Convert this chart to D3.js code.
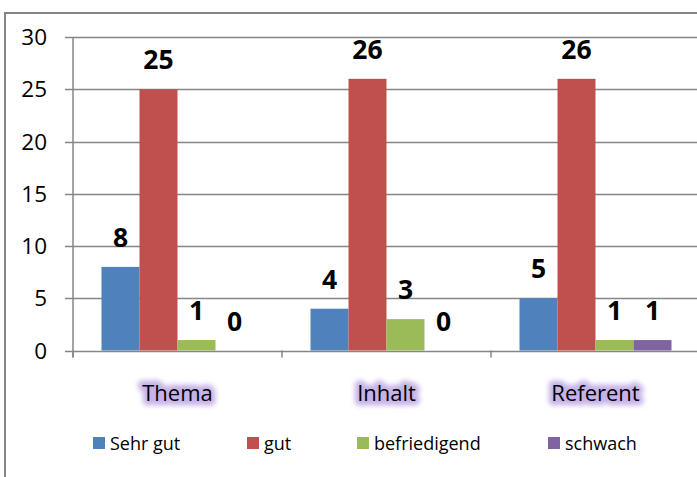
<!DOCTYPE html>
<html><head><meta charset="utf-8">
<script src="https://cdn.jsdelivr.net/npm/d3@7"></script>
<style>
html,body{margin:0;padding:0;background:#fff;}
svg{display:block;font-family:"Open Sans",Lato,sans-serif;}
</style></head>
<body>
<svg id="c" width="697" height="477"></svg>
<script>
const categories = ["Thema", "Inhalt", "Referent"];
const seriesNames = ["Sehr gut", "gut", "befriedigend", "schwach"];
const seriesColors = ["#4F81BD", "#C0504D", "#9BBB59", "#8064A2"];
const sehrGut = [8, 4, 5];
const gut = [25, 26, 26];
const befriedigend = [1, 3, 1];
const schwach = [0, 0, 1];
const yTicks = [0, 5, 10, 15, 20, 25, 30];

const seriesValues = [sehrGut, gut, befriedigend, schwach];
const svg = d3.select("#c");

svg.append("rect").attr("x", 5).attr("y", 13).attr("width", 720).attr("height", 500)
  .attr("fill", "#fff").attr("stroke", "#868686").attr("stroke-width", 2);

const defs = svg.append("defs");
defs.append("filter").attr("id", "blur").attr("x", "-30%").attr("y", "-60%").attr("width", "160%").attr("height", "220%")
  .append("feGaussianBlur").attr("stdDeviation", 2.5);

const left = 73, right = 700, top0 = 37, bottom = 350.5;
const x0 = d3.scaleBand().domain(categories).range([left, right]).paddingInner(0).paddingOuter(0);
const bw = x0.bandwidth() / 5.5;
const x1 = d3.scaleBand().domain(seriesNames).range([0.75 * bw, 4.75 * bw]).padding(0);
const y = d3.scaleLinear().domain([0, 30]).range([bottom, top0]);

svg.append("g").selectAll("line").data(yTicks).join("line")
  .attr("x1", left - 8).attr("x2", 697)
  .attr("y1", d => Math.round(y(d)) + 0.5).attr("y2", d => Math.round(y(d)) + 0.5)
  .attr("stroke", "#868686").attr("stroke-width", 1.5);

svg.append("line").attr("x1", left).attr("x2", left).attr("y1", y(30)).attr("y2", bottom + 7)
  .attr("stroke", "#868686").attr("stroke-width", 1.5);

svg.append("g").selectAll("line").data(categories.slice(1).map(c => x0(c)).concat([left])).join("line")
  .attr("x1", d => d).attr("x2", d => d).attr("y1", bottom).attr("y2", bottom + 7)
  .attr("stroke", "#868686").attr("stroke-width", 1.5);

svg.append("g").selectAll("text").data(yTicks).join("text")
  .attr("x", 47).attr("y", d => y(d)).attr("dy", "0.36em")
  .attr("text-anchor", "end").attr("font-size", 22.5).attr("fill", "#000")
  .text(d => d);

const flat = [];
categories.forEach((c, ci) => seriesNames.forEach((s, si) => flat.push({c, s, si, v: seriesValues[si][ci]})));
svg.append("g").selectAll("rect").data(flat).join("rect")
  .attr("x", d => x0(d.c) + x1(d.s)).attr("width", x1.bandwidth())
  .attr("y", d => y(d.v)).attr("height", d => bottom - y(d.v))
  .attr("fill", d => seriesColors[d.si]);

svg.append("g").selectAll("text").data(flat).join("text")
  .attr("x", d => x0(d.c) + x1(d.s) + x1.bandwidth() / 2)
  .attr("y", d => y(d.v) - 20)
  .attr("text-anchor", "middle").attr("font-size", 26.5).attr("font-weight", "bold").attr("fill", "#000")
  .text(d => d.v);

// category labels with lavender glow
const catG = svg.append("g");
catG.selectAll("text.glow").data(categories).join("text").attr("class", "glow")
  .attr("x", d => x0(d) + x0.bandwidth() / 2).attr("y", 401)
  .attr("text-anchor", "middle").attr("font-size", 22)
  .attr("fill", "#C6B2E8").attr("stroke", "#C6B2E8").attr("stroke-width", 9)
  .attr("stroke-linejoin", "round").attr("filter", "url(#blur)")
  .text(d => d);
catG.selectAll("text.lab").data(categories).join("text").attr("class", "lab")
  .attr("x", d => x0(d) + x0.bandwidth() / 2).attr("y", 401)
  .attr("text-anchor", "middle").attr("font-size", 22).attr("fill", "#000")
  .text(d => d);

const legX = [93, 247, 357, 548];
const lg = svg.append("g").selectAll("g").data(seriesNames).join("g")
  .attr("transform", (d, i) => `translate(${legX[i]},437)`);
lg.append("rect").attr("width", 12).attr("height", 12).attr("fill", (d, i) => seriesColors[i]);
lg.append("text").attr("x", 17).attr("y", 13).attr("font-size", 18).attr("fill", "#000").text(d => d);
</script>
</body></html>
